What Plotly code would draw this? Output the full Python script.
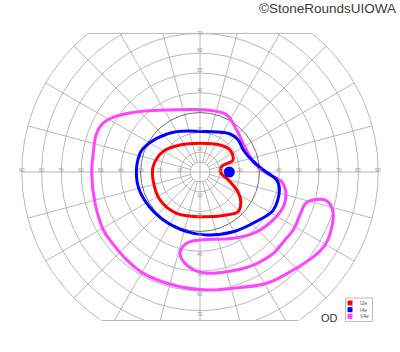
import numpy as np
import plotly.graph_objects as go

# ---------------- data (degrees of visual field; x = temporal(+)/nasal(-), y = superior(+)/inferior(-))
ring_radii = [5, 10, 20, 30, 40, 50, 60, 70, 80, 90]
meridian_step = 15
h_tick_vals = [10, 20, 30, 40, 50, 60, 70, 80, 90]
v_tick_vals = [10, 20, 30, 40, 50, 60, 70]
field_top = 70
field_bottom = -75

i2e_x = [0, 10.1, 15.2, 16.7, 14.1, 11.1, 10.4, 10.9, 13.5, 19.2, 20.6, 19.2, 13.5, 0, -11.8, -20.2, -23.7, -23.7, -18.7, -10.1, 0]
i2e_y = [14.5, 13.6, 11.1, 6.1, 4.5, 3.0, 1.0, -1.0, -3.2, -10.1, -15.0, -20.1, -21.7, -22.6, -20.9, -14.1, -4.0, 2.7, 10.3, 13.6, 14.5]

i4e_x = [-30.3, -32.0, -31.2, -26.9, -18.5, -6.7, 3.4, 16.8, 28.6, 37.0, 40.1, 38.7, 32.0, 26.1, 21.9, 19.3, 15.2, 3.4, -11.8, -21.9, -28.6, -30.3]
i4e_y = [9.4, 2.7, -7.4, -15.8, -24.2, -30.1, -31.8, -30.2, -24.9, -19.2, -9.1, -4.0, 1.0, 6.1, 11.1, 16.2, 19.2, 20.4, 20.4, 17.0, 12.0, 9.4]

v4e_x = [-16.8, 3.4, 13.5, 18.5, 22.7, 26.9, 33.7, 41.3, 43.4, 42.1, 37.0, 28.6, 16.8, 0, -6.7, -10.1, -6.7, 1.7, 13.5, 26.9, 37.0, 42.9,
         47.1, 50.5, 53.5, 58.6, 64.1, 67.2, 66.2, 63.1, 57.2, 47.1, 33.7, 16.8, 3.4, -13.5, -28.6, -37.0, -45.5, -48.8, -53.0, -54.7,
         -53.9, -52.5, -49.0, -42.9, -35.4, -27.8, -16.8]
v4e_y = [31.3, 31.3, 28.8, 21.2, 12.6, 5.2, -0.7, -4.9, -10.8, -17.5, -24.2, -30.2, -33.5, -34.3, -36.0, -41.1, -47.0, -50.9, -50.4, -47.0, -41.1, -34.3,
         -29.3, -21.7, -15.7, -13.9, -14.6, -20.2, -29.3, -36.9, -42.9, -49.5, -56.2, -58.7, -59.6, -57.1, -51.2, -44.4, -34.3, -29.3, -15.8, -0.7,
         9.4, 18.7, 24.7, 28.0, 29.8, 30.8, 31.3]

blind_spot_x = [14.8]
blind_spot_y = [0.0]

legend_labels = ["I2e", "I4e", "V4e"]
legend_colors = ["#ff0000", "#0000ff", "#ff44ff"]
eye_label = "OD"
watermark = "©StoneRoundsUIOWA"

# ---------------- figure geometry
W, H = 400, 352
SCALE = 1.98          # px per degree
CX, CY = 200, 172     # pixel position of fixation
x_range = [-CX / SCALE, (W - CX) / SCALE]
y_range = [-(H - CY) / SCALE, CY / SCALE]

GRID = "#b8b8b8"
fig = go.Figure()

def clip_pts(xs, ys):
    xs = np.array(xs, dtype=float)
    ys = np.array(ys, dtype=float)
    ok = (ys <= field_top + 1e-9) & (ys >= field_bottom - 1e-9)
    xs = np.where(ok, xs, np.nan)
    ys = np.where(ok, ys, np.nan)
    return xs, ys

gx, gy = [], []
for r in ring_radii:
    if r == 30:
        continue
    t = np.linspace(0, 2 * np.pi, 721)
    xs, ys = clip_pts(r * np.cos(t), r * np.sin(t))
    gx += list(xs) + [None]
    gy += list(ys) + [None]
# meridians
for a in range(0, 360, meridian_step):
    th = np.radians(a)
    s = np.sin(th)
    rmax = 90.0
    if s > 1e-9:
        rmax = min(rmax, field_top / s)
    elif s < -1e-9:
        rmax = min(rmax, -field_bottom / -s)
    r0 = 0 if a % 90 == 0 else 5
    gx += [r0 * np.cos(th), rmax * np.cos(th), None]
    gy += [r0 * np.sin(th), rmax * np.sin(th), None]
# clip chords
for yy in (field_top, field_bottom):
    half = np.sqrt(90 ** 2 - yy ** 2)
    gx += [-half, half, None]
    gy += [yy, yy, None]
gx = [None if (v is not None and np.isnan(v)) else v for v in gx]
gy = [None if (v is not None and np.isnan(v)) else v for v in gy]
fig.add_trace(go.Scatter(x=gx, y=gy, mode="lines", line=dict(color=GRID, width=1),
                         hoverinfo="skip", showlegend=False))
# 30 degree ring (darker)
t = np.linspace(0, 2 * np.pi, 361)
fig.add_trace(go.Scatter(x=30 * np.cos(t), y=30 * np.sin(t), mode="lines",
                         line=dict(color="#6a6a6a", width=1), hoverinfo="skip", showlegend=False))

# isopters
for xs, ys, c in [(v4e_x, v4e_y, legend_colors[2]), (i4e_x, i4e_y, legend_colors[1]), (i2e_x, i2e_y, legend_colors[0])]:
    fig.add_trace(go.Scatter(x=xs, y=ys, mode="lines",
                             line=dict(color=c, width=3, shape="spline", smoothing=1.0),
                             hoverinfo="skip", showlegend=False))
fig.add_trace(go.Scatter(x=blind_spot_x, y=blind_spot_y, mode="markers",
                         marker=dict(color="#0000ff", size=11), hoverinfo="skip", showlegend=False))

ann = []
for v in h_tick_vals:
    for sgn in (-1, 1):
        ann.append(dict(x=sgn * v, y=0, text=str(v), showarrow=False, yshift=2,
                        font=dict(size=5, color="#999999", family="Arial")))
for v in v_tick_vals:
    ann.append(dict(x=0, y=v, text=str(v), showarrow=False, yshift=3 if v < 70 else 0,
                    font=dict(size=5, color="#999999", family="Arial")))
    ann.append(dict(x=0, y=-v, text=str(v), showarrow=False, yshift=-3,
                    font=dict(size=5, color="#999999", family="Arial")))

def px(x):
    return x / W

def py(y):
    return 1 - y / H

shapes = [dict(type="rect", xref="paper", yref="paper", x0=px(345.5), x1=px(372.5), y0=py(321.5), y1=py(298),
               line=dict(color="#bbbbbb", width=1), fillcolor="white")]
for i, (lab, col) in enumerate(zip(legend_labels, legend_colors)):
    top = 300.5 + i * 6.7
    shapes.append(dict(type="rect", xref="paper", yref="paper", x0=px(347.5), x1=px(352.5),
                       y0=py(top + 5), y1=py(top), line=dict(width=0), fillcolor=col))
    ann.append(dict(xref="paper", yref="paper", x=px(357.5), y=py(top + 2.5), text=lab, showarrow=False,
                    xanchor="left", yanchor="middle", font=dict(size=5, color="#555555", family="Arial")))

ann.append(dict(xref="paper", yref="paper", x=px(329), y=py(318), text=eye_label, showarrow=False,
                xanchor="center", yanchor="middle", font=dict(size=11, color="#333333", family="Arial")))
ann.append(dict(xref="paper", yref="paper", x=px(398), y=py(9), text=watermark, showarrow=False,
                xanchor="right", yanchor="middle", font=dict(size=13.5, color="#3a3a3a", family="Arial")))

fig.update_layout(width=W, height=H, margin=dict(l=0, r=0, t=0, b=0),
                  paper_bgcolor="white", plot_bgcolor="white",
                  xaxis=dict(range=x_range, visible=False, fixedrange=True),
                  yaxis=dict(range=y_range, visible=False, fixedrange=True),
                  annotations=ann, shapes=shapes, showlegend=False)
fig.write_html("out.html")
